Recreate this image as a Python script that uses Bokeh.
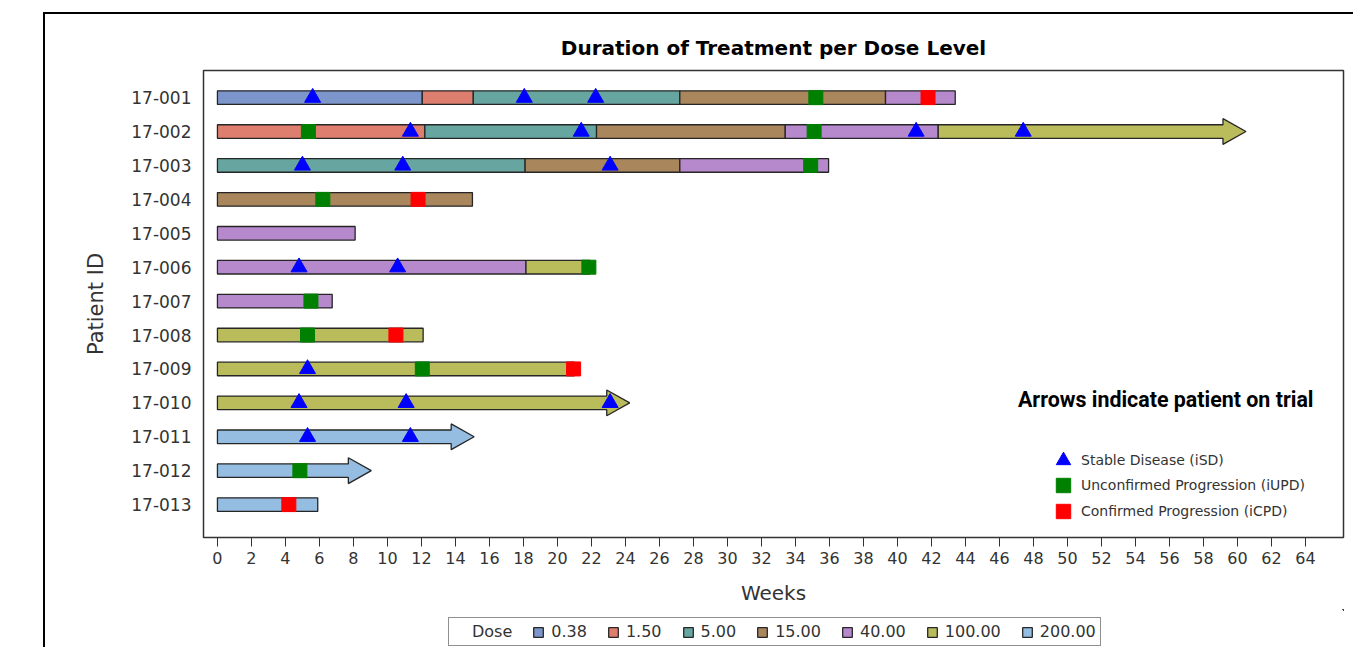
from bokeh.plotting import figure
from bokeh.models import Range1d, FixedTicker, Legend, LegendItem, Label
from bokeh.layouts import column
from bokeh.embed import file_html
from bokeh.resources import INLINE

# ---------------- data ----------------
patients = ["17-001", "17-002", "17-003", "17-004", "17-005", "17-006", "17-007",
            "17-008", "17-009", "17-010", "17-011", "17-012", "17-013"]

dose_levels = ["0.38", "1.50", "5.00", "15.00", "40.00", "100.00", "200.00"]
dose_colors = ["#7C95CA", "#DE7E6F", "#66A5A0", "#A9865B", "#B689CD", "#BABC5C", "#94BDE1"]

seg_patient = ["17-001", "17-001", "17-001", "17-001", "17-001",
               "17-002", "17-002", "17-002", "17-002", "17-002",
               "17-003", "17-003", "17-003",
               "17-004", "17-005", "17-006", "17-006", "17-007",
               "17-008", "17-009", "17-010", "17-011", "17-012", "17-013"]
seg_dose = ["0.38", "1.50", "5.00", "15.00", "40.00",
            "1.50", "5.00", "15.00", "40.00", "100.00",
            "5.00", "15.00", "40.00",
            "15.00", "40.00", "40.00", "100.00", "40.00",
            "100.00", "100.00", "100.00", "200.00", "200.00", "200.00"]
seg_start = [0, 12.05, 15.05, 27.2, 39.3,
             0, 12.2, 22.3, 33.4, 42.4,
             0, 18.1, 27.2,
             0, 0, 0, 18.15, 0,
             0, 0, 0, 0, 0, 0]
seg_end = [12.05, 15.05, 27.2, 39.3, 43.4,
           12.2, 22.3, 33.4, 42.4, 60.5,
           18.1, 27.2, 35.95,
           15.0, 8.1, 18.15, 21.9, 6.75,
           12.1, 21.0, 24.25, 15.1, 9.05, 5.9]

on_trial = ["17-002", "17-010", "17-011", "17-012"]

sd_patient = ["17-001", "17-001", "17-001", "17-002", "17-002", "17-002", "17-002",
              "17-003", "17-003", "17-003", "17-006", "17-006", "17-009",
              "17-010", "17-010", "17-010", "17-011", "17-011"]
sd_week = [5.6, 18.05, 22.25, 11.35, 21.4, 41.1, 47.4,
           5.0, 10.9, 23.1, 4.8, 10.6, 5.3,
           4.8, 11.1, 23.1, 5.3, 11.35]

iupd_patient = ["17-001", "17-002", "17-002", "17-003", "17-004", "17-006",
                "17-007", "17-008", "17-009", "17-012"]
iupd_week = [35.2, 5.35, 35.1, 34.9, 6.2, 21.85, 5.5, 5.3, 12.05, 4.85]

icpd_patient = ["17-001", "17-004", "17-008", "17-009", "17-013"]
icpd_week = [41.8, 11.8, 10.5, 20.95, 4.2]

x_ticks = list(range(0, 65, 2))

# ---------------- styles ----------------
FONT = "DejaVu Sans"
BAR_H = 0.40
HEAD_HALF = 0.38
HEAD_LEN = 1.35
EDGE = "#262626"

ypos = {pid: len(patients) - 1 - i for i, pid in enumerate(patients)}

p = figure(frame_width=1140, frame_height=467,
           min_border_left=158, min_border_right=10,
           min_border_top=56, min_border_bottom=72,
           x_range=Range1d(-0.82, 66.24), y_range=Range1d(-0.97, 12.8),
           output_backend="svg", toolbar_location=None,
           title="Duration of Treatment per Dose Level")
p.background_fill_color = "white"
p.border_fill_color = "white"
p.outline_line_color = "#333333"
p.outline_line_width = 1.5
p.grid.visible = False

p.title.align = "center"
p.title.text_font = FONT
p.title.text_font_size = "20px"
p.title.text_font_style = "bold"
p.title.text_color = "black"
p.title.standoff = 22

# x axis
p.xaxis.ticker = FixedTicker(ticks=x_ticks, minor_ticks=[])
p.xaxis.major_tick_out = 9
p.xaxis.major_tick_in = 0
p.xaxis.major_tick_line_color = "#333333"
p.xaxis.major_label_standoff = 5
p.xaxis.major_label_text_font = FONT
p.xaxis.major_label_text_font_size = "16px"
p.xaxis.major_label_text_color = "#333333"
p.xaxis.axis_label = "Weeks"
p.xaxis.axis_label_text_font = FONT
p.xaxis.axis_label_text_font_size = "20px"
p.xaxis.axis_label_text_font_style = "normal"
p.xaxis.axis_label_text_color = "#333333"
p.xaxis.axis_label_standoff = 14
p.xaxis.axis_line_color = "#333333"

# y axis
p.yaxis.ticker = FixedTicker(ticks=[ypos[k] for k in patients], minor_ticks=[])
p.yaxis.major_label_overrides = {ypos[k]: k for k in patients}
p.yaxis.major_tick_out = 0
p.yaxis.major_tick_in = 0
p.yaxis.major_label_standoff = 12
p.yaxis.major_label_text_font = FONT
p.yaxis.major_label_text_font_size = "17px"
p.yaxis.major_label_text_color = "#333333"
p.yaxis.axis_label = "Patient ID"
p.yaxis.axis_label_text_font = FONT
p.yaxis.axis_label_text_font_size = "21px"
p.yaxis.axis_label_text_font_style = "normal"
p.yaxis.axis_label_text_color = "#333333"
p.yaxis.axis_label_standoff = 20
p.yaxis.axis_line_color = "#333333"

# last segment of an on-trial patient is drawn as an arrow
last_idx = {}
for i, pid in enumerate(seg_patient):
    if pid not in last_idx or seg_end[i] > seg_end[last_idx[pid]]:
        last_idx[pid] = i
arrow_idx = {last_idx[pid] for pid in on_trial}

dose_all = {}
for dose, color in zip(dose_levels, dose_colors):
    ys, ls, rs = [], [], []
    pxs, pys = [], []
    ay, al, ar = [], [], []
    for i in range(len(seg_patient)):
        if seg_dose[i] != dose:
            continue
        y = ypos[seg_patient[i]]
        s, e = seg_start[i], seg_end[i]
        ay.append(y); al.append(s); ar.append(e)
        if i in arrow_idx:
            hb = e - HEAD_LEN
            h = BAR_H / 2
            pxs.append([s, hb, hb, e, hb, hb, s])
            pys.append([y - h, y - h, y - HEAD_HALF, y, y + HEAD_HALF, y + h, y + h])
        else:
            ys.append(y); ls.append(s); rs.append(e)
    dose_all[dose] = (ay, al, ar)
    p.hbar(y=ys, left=ls, right=rs, height=BAR_H, fill_color=color,
           line_color=EDGE, line_width=1.3)
    if pxs:
        p.patches(xs=pxs, ys=pys, fill_color=color, line_color=EDGE, line_width=1.3)

r_sd = p.scatter(x=sd_week, y=[ypos[k] for k in sd_patient], marker="triangle",
                 size=16, fill_color="#0000FF", line_color="#0000FF")
r_iupd = p.scatter(x=iupd_week, y=[ypos[k] for k in iupd_patient], marker="square",
                   size=14, fill_color="#008000", line_color="#008000")
r_icpd = p.scatter(x=icpd_week, y=[ypos[k] for k in icpd_patient], marker="square",
                   size=14, fill_color="#FF0000", line_color="#FF0000")

# marker legend inside the plot (one legend per row to get tight row spacing)
marker_entries = [("Stable Disease (iSD)", r_sd, 58),
                  ("Unconfirmed Progression (iUPD)", r_iupd, 33),
                  ("Confirmed Progression (iCPD)", r_icpd, 7)]
for lab, rend, yb in marker_entries:
    lg = Legend(items=[LegendItem(label=lab, renderers=[rend])],
                location=(842, yb), orientation="vertical",
                glyph_width=36, glyph_height=38, label_height=38,
                label_standoff=0, padding=0, margin=0, spacing=0,
                label_text_font=FONT, label_text_font_size="14px",
                label_text_color="#333333",
                border_line_color=None, background_fill_alpha=0)
    p.add_layout(lg, "center")

p.add_layout(Label(x=1110, y=138, x_units="screen", y_units="screen",
                   text="Arrows indicate patient on trial", text_align="right",
                   text_baseline="middle", text_font="Roboto",
                   text_font_style="bold", text_font_size="21.4px", text_color="black"))

# ---------------- dose legend strip below the chart ----------------
# the strip's view window lies away from the data, so its bars only feed the legend
pl = figure(width=1308, height=38, min_border=0,
            x_axis_type=None, y_axis_type=None,
            x_range=Range1d(-20, -10), y_range=Range1d(-20, -10),
            output_backend="svg", toolbar_location=None)
pl.outline_line_color = None
pl.grid.visible = False
pl.background_fill_color = "white"
pl.border_fill_color = "white"

hy, hl, hr = dose_all[dose_levels[0]]
r_head = pl.hbar(y=hy, left=hl, right=hr, height=BAR_H, fill_alpha=0, line_alpha=0)
dose_items = [LegendItem(label="Dose", renderers=[r_head])]
for dose, color in zip(dose_levels, dose_colors):
    ay, al, ar = dose_all[dose]
    rr = pl.hbar(y=ay, left=al, right=ar, height=BAR_H, fill_color=color,
                 line_color=EDGE, line_width=1.3)
    dose_items.append(LegendItem(label=dose, renderers=[rr]))

dose_legend = Legend(items=dose_items, orientation="horizontal",
                     location=(245, 1),
                     glyph_width=12, glyph_height=12, label_height=16,
                     label_standoff=7, spacing=20, padding=4, margin=0,
                     label_text_font=FONT, label_text_font_size="16px",
                     label_text_color="#333333",
                     border_line_color="#222222", border_line_width=1,
                     background_fill_color="white", background_fill_alpha=1)
pl.add_layout(dose_legend, "center")

layout = column(p, pl, spacing=0, margin=(12, 0, 0, 43),
                styles={"border-left": "2px solid black", "border-top": "2px solid black"})

open("out.html", "w").write(file_html(layout, INLINE))
